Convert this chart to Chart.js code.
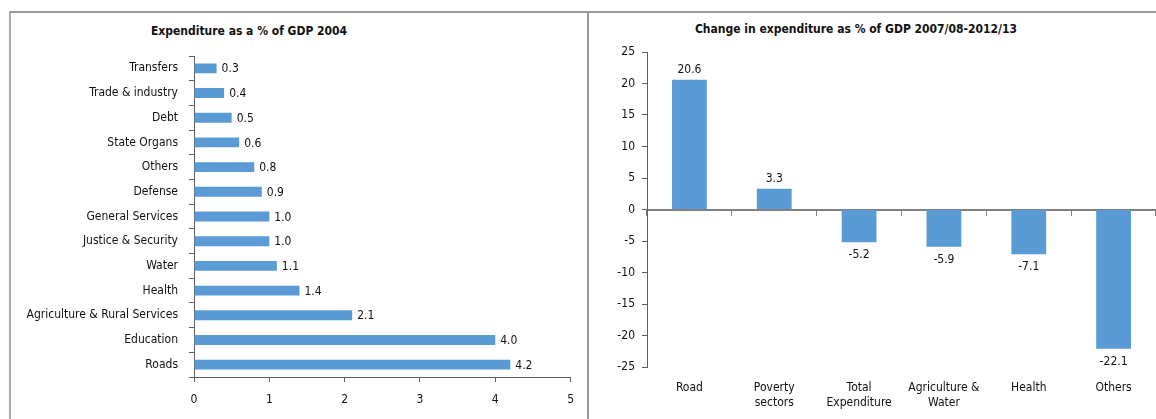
<!DOCTYPE html>
<html>
<head>
<meta charset="utf-8">
<script src="https://cdn.jsdelivr.net/npm/chart.js@4"></script>
<style>
  html, body { margin: 0; padding: 0; background: #fff; }
  body { width: 1156px; height: 419px; position: relative; overflow: hidden;
         font-family: "DejaVu Sans Condensed", "Liberation Sans", sans-serif; }
  .frame { position: absolute; left: 9px; top: 11px; width: 1147px; height: 408px;
           border-top: 2px solid #999; border-left: 2px solid #aaa; box-sizing: border-box; }
  .divider { position: absolute; left: 587px; top: 11px; width: 2px; height: 408px; background: #999; }
  .title { position: absolute; font-weight: bold; font-size: 12px; color: #111;
           white-space: nowrap; transform: translate(-50%, -50%); }
  canvas { position: absolute; }
</style>
</head>
<body>
<div class="frame"></div>
<div class="divider"></div>
<div class="title" style="left:249px; top:31px;">Expenditure as a % of GDP 2004</div>
<div class="title" style="left:856px; top:29px;">Change in expenditure as % of GDP 2007/08-2012/13</div>
<canvas id="share" width="575" height="407" style="left:10px; top:12px;"></canvas>
<canvas id="change" width="567" height="407" style="left:589px; top:12px;"></canvas>
<script>
// Expenditure by sector, % of GDP (2004)
const shareCategories = [
  'Transfers', 'Trade & industry', 'Debt', 'State Organs', 'Others', 'Defense',
  'General Services', 'Justice & Security', 'Water', 'Health',
  'Agriculture & Rural Services', 'Education', 'Roads'
];
const shareValues = [0.3, 0.4, 0.5, 0.6, 0.8, 0.9, 1.0, 1.0, 1.1, 1.4, 2.1, 4.0, 4.2];
const shareTicks = [0, 1, 2, 3, 4, 5];

// Change in expenditure as % of GDP, 2007/08 to 2012/13
const changeCategories = [
  'Road', ['Poverty', 'sectors'], ['Total', 'Expenditure'],
  ['Agriculture &', 'Water'], 'Health', 'Others'
];
const changeValues = [20.6, 3.3, -5.2, -5.9, -7.1, -22.1];
const changeTicks = [-25, -20, -15, -10, -5, 0, 5, 10, 15, 20, 25];

const FONT_FAMILY = '"DejaVu Sans Condensed", "Liberation Sans", sans-serif';
const BAR_BLUE = '#5B9BD5';
const AXIS_GREY = '#5f5f5f';
const TEXT = '#111111';
const tickFont = { family: FONT_FAMILY, size: 12, lineHeight: 1.2 };

// Writes each bar's value next to it
const valueLabels = {
  id: 'valueLabels',
  afterDatasetsDraw(chart, args, opts) {
    const { ctx } = chart;
    const values = chart.data.datasets[0].data;
    ctx.save();
    ctx.font = '12px ' + FONT_FAMILY;
    ctx.fillStyle = TEXT;
    chart.getDatasetMeta(0).data.forEach((bar, i) => {
      const v = values[i];
      const txt = v.toFixed(1);
      if (opts.horizontal) {
        ctx.textAlign = 'left';
        ctx.textBaseline = 'middle';
        ctx.fillText(txt, bar.x + 5, bar.y + 1);
      } else if (v >= 0) {
        ctx.textAlign = 'center';
        ctx.textBaseline = 'bottom';
        ctx.fillText(txt, bar.x, bar.y - 4);
      } else {
        ctx.textAlign = 'center';
        ctx.textBaseline = 'top';
        ctx.fillText(txt, bar.x, bar.y + 7);
      }
    });
    ctx.restore();
  }
};

Chart.register(valueLabels);

new Chart(document.getElementById('share'), {
  type: 'bar',
  data: {
    labels: shareCategories,
    datasets: [{
      data: shareValues,
      backgroundColor: BAR_BLUE,
      barPercentage: 0.4,
      categoryPercentage: 1
    }]
  },
  options: {
    indexAxis: 'y',
    responsive: false,
    animation: false,
    events: [],
    layout: { padding: { top: 44, right: 12, left: 0, bottom: 0 } },
    plugins: {
      legend: { display: false },
      tooltip: { enabled: false },
      valueLabels: { horizontal: true }
    },
    scales: {
      x: {
        type: 'linear',
        min: 0,
        max: 5,
        afterBuildTicks: s => { s.ticks = shareTicks.map(v => ({ value: v })); },
        grid: { drawOnChartArea: false, drawTicks: true, tickLength: 5, color: AXIS_GREY },
        border: { color: AXIS_GREY, width: 1 },
        ticks: { padding: 11, font: tickFont, color: TEXT },
        afterFit: s => { s.height = 42; }
      },
      y: {
        grid: { drawOnChartArea: false, drawTicks: true, tickLength: 5, color: AXIS_GREY, offset: true },
        border: { color: AXIS_GREY, width: 1 },
        ticks: { padding: 11, font: tickFont, color: TEXT, autoSkip: false },
        afterFit: s => { s.width = 184; }
      }
    }
  }
});

new Chart(document.getElementById('change'), {
  type: 'bar',
  data: {
    labels: changeCategories,
    datasets: [{
      data: changeValues,
      backgroundColor: BAR_BLUE,
      barPercentage: 0.41,
      categoryPercentage: 1,
      xAxisID: 'x',
      yAxisID: 'y'
    }]
  },
  options: {
    responsive: false,
    animation: false,
    events: [],
    layout: { padding: { top: 40, right: 0, left: 0, bottom: 0 } },
    plugins: {
      legend: { display: false },
      tooltip: { enabled: false },
      valueLabels: { horizontal: false }
    },
    scales: {
      // category axis drawn along the zero line
      x: {
        type: 'category',
        position: { y: 0 },
        grid: { drawOnChartArea: false, drawTicks: true, tickLength: 5, color: '#808080', offset: true },
        border: { color: '#808080', width: 2 },
        ticks: { display: false },
        afterFit: s => { s.height = 0; }
      },
      // category names along the bottom edge
      xNames: {
        type: 'category',
        position: 'bottom',
        grid: { display: false },
        border: { display: false },
        ticks: { padding: 6, font: tickFont, color: TEXT, maxRotation: 0, autoSkip: false },
        afterFit: s => { s.height = 52; }
      },
      y: {
        type: 'linear',
        min: -25,
        max: 25,
        afterBuildTicks: s => { s.ticks = changeTicks.map(v => ({ value: v })); },
        grid: { drawOnChartArea: false, drawTicks: true, tickLength: 5, color: AXIS_GREY },
        border: { color: AXIS_GREY, width: 1 },
        ticks: { padding: 7, font: tickFont, color: TEXT },
        afterFit: s => { s.width = 58; }
      }
    }
  }
});
</script>
</body>
</html>
